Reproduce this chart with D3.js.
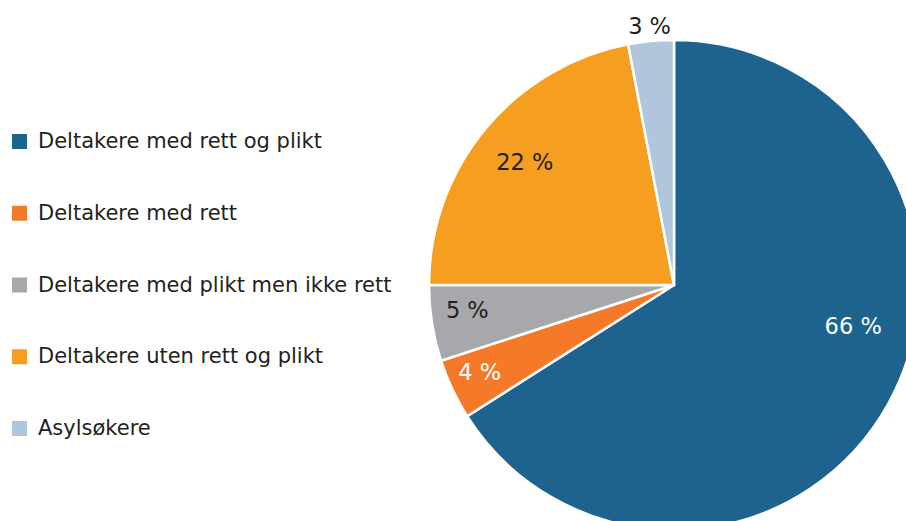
<!DOCTYPE html>
<html><head><meta charset="utf-8">
<script src="https://cdn.jsdelivr.net/npm/d3@7"></script>
<style>body{margin:0;background:#fff;} svg{display:block;}</style>
</head><body>
<svg id="c" width="906" height="521"></svg>
<script>
const categories = ["Deltakere med rett og plikt","Deltakere med rett","Deltakere med plikt men ikke rett","Deltakere uten rett og plikt","Asylsøkere"];
const values = [66,4,5,22,3];
const colors = ["#1d638d","#f47a2a","#a7a8ab","#f59e1f","#afc6dc"];
const labelColors = ["#ffffff","#ffffff","#231f20","#231f20","#231f20"];
// label placement: fraction of radius and angle shift (degrees) from slice middle
const labelRadius = [0.75,0.87,0.85,0.79,1.06];
const labelShift = [-16,1,2,0,0];

const svg = d3.select("#c");
const font = "'DejaVu Sans', sans-serif";
const cx = 674, cy = 285, R = 245;

const pie = d3.pie().sort(null).value(d => d)(values);
const arc = d3.arc().innerRadius(0).outerRadius(R);
const g = svg.append("g").attr("transform", `translate(${cx},${cy})`);
g.selectAll("path").data(pie).join("path")
  .attr("d", arc).attr("fill", (d,i) => colors[i])
  .attr("stroke", "#fff").attr("stroke-width", 2.5).attr("stroke-linejoin","round");
g.selectAll("text").data(pie).join("text")
  .attr("transform", (d,i) => {
    const a = (d.startAngle + d.endAngle)/2 + labelShift[i]*Math.PI/180;
    const p = d3.pointRadial(a, R*labelRadius[i]);
    return `translate(${p[0]},${p[1]})`;
  })
  .attr("text-anchor","middle").attr("dominant-baseline","central")
  .attr("font-family", font).attr("font-size", 22.5)
  .attr("fill", (d,i) => labelColors[i])
  .text(d => d.value + " %");

const y = d3.scalePoint().domain(categories).range([141, 428]);
const lg = svg.append("g");
const items = lg.selectAll("g").data(categories).join("g")
  .attr("transform", d => `translate(0,${y(d)})`);
items.append("rect").attr("x",12).attr("y",-7).attr("width",15).attr("height",15)
  .attr("fill", (d,i) => colors[i]);
items.append("text").attr("x",38).attr("dominant-baseline","central")
  .attr("font-family", font).attr("font-size", 21).attr("fill","#231f20")
  .text(d => d);
</script>
</body></html>
